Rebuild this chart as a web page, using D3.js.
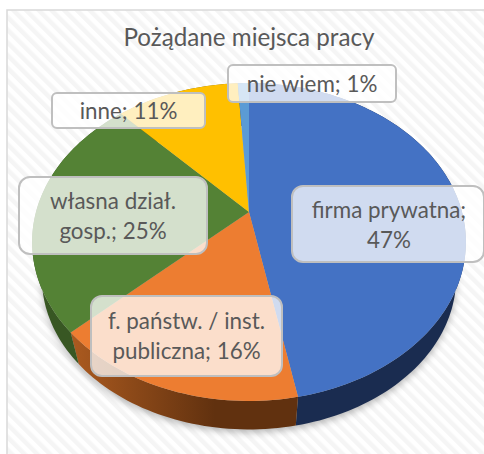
<!DOCTYPE html>
<meta charset="utf-8">
<style>
html, body { margin: 0; padding: 0; background: #fff; }
svg { display: block; }
text { font-family: Lato, "Open Sans", sans-serif; fill: #595959; }
</style>
<body>
<svg id="chart" width="484" height="454"></svg>

<script src="https://d3js.org/d3.v7.min.js"></script>
<script>

// chart values
var title = "Pożądane miejsca pracy";
var categories = ["firma prywatna", "f. państw. / inst. publiczna", "własna dział. gosp.", "inne", "nie wiem"];
var shares = [47, 16, 25, 11, 1];
var labelLines = [
    ["firma prywatna;", "47%"],
    ["f. państw. / inst.", "publiczna; 16%"],
    ["własna dział.", "gosp.; 25%"],
    ["inne; 11%"],
    ["nie wiem; 1%"]
];

var topColors = ["#4472c4", "#ed7d31", "#548235", "#ffc000", "#5b9bd5"];
var wallColors = ["#1a2c50", "url(#orangeWall)", "#385723", "#7f6000", "#2e4e6b"];

// label boxes, placed by hand like in the original
var boxes = [
    {x: 292, y: 186, w: 192, h: 76},
    {x: 91, y: 296, w: 191, h: 80},
    {x: 19, y: 177, w: 188, h: 77},
    {x: 52, y: 93, w: 153, h: 35},
    {x: 228, y: 65, w: 168, h: 37}
];

var svg = d3.select("#chart");
var defs = svg.append("defs");

// faint diagonal stripes of the chart area
var stripes = defs.append("pattern")
    .attr("id", "stripes")
    .attr("width", 9).attr("height", 9)
    .attr("patternUnits", "userSpaceOnUse")
    .attr("patternTransform", "rotate(-45)");
stripes.append("rect").attr("width", 9).attr("height", 9).attr("fill", "#ffffff");
stripes.append("rect").attr("width", 4.5).attr("height", 9).attr("fill", "#f5f5f5");

var grad = defs.append("linearGradient")
    .attr("id", "orangeWall")
    .attr("gradientUnits", "userSpaceOnUse")
    .attr("x1", 75).attr("x2", 215).attr("y1", 0).attr("y2", 0);
grad.append("stop").attr("offset", 0).attr("stop-color", "#a9591f");
grad.append("stop").attr("offset", 1).attr("stop-color", "#61310f");

defs.append("filter").attr("id", "blur")
    .attr("x", "-10%").attr("y", "-10%").attr("width", "120%").attr("height", "120%")
    .append("feGaussianBlur").attr("stdDeviation", 3.5);

// background and frame
svg.append("rect").attr("width", 484).attr("height", 454).attr("fill", "#fff");
svg.append("rect")
    .attr("x", 7).attr("y", 10).attr("width", 490).attr("height", 460)
    .attr("fill", "url(#stripes)")
    .attr("stroke", "#d9d9d9").attr("stroke-width", 1.5);

// perspective projection of the pie disc, angle 0 is the back of the pie
var apexX = 249, apexY = 212, scaleX = 213, scaleY = 153.3, tilt = 0.1887;
function project(a, depth) {
    var u = Math.sin(a), v = -Math.cos(a);
    var w = 1 - tilt * v;
    var px = scaleX * u / w, py = scaleY * v / w;
    if (depth) return [apexX + 0.955 * px, 249 + 0.955 * py];
    return [apexX + px, apexY + py];
}

var pie = d3.pie().sort(null).value(function (d) { return d; });
var arcs = pie(shares);
var line = d3.line();

function arcPoints(d, depth) {
    var n = Math.max(4, Math.ceil((d.endAngle - d.startAngle) * 40));
    return d3.range(n + 1).map(function (i) {
        return project(d.startAngle + (d.endAngle - d.startAngle) * i / n, depth);
    });
}

// shadow under the pie
var whole = {startAngle: 0, endAngle: 2 * Math.PI};
svg.append("path")
    .attr("d", line(arcPoints(whole, true)) + "Z")
    .attr("transform", "translate(0,3)")
    .attr("fill", "#000").attr("fill-opacity", 0.28)
    .attr("filter", "url(#blur)");

// side walls
svg.append("g").selectAll("path")
    .data(arcs)
    .enter().append("path")
    .attr("d", function (d) {
        return line(arcPoints(d, false).concat(arcPoints(d, true).reverse())) + "Z";
    })
    .attr("fill", function (d, i) { return wallColors[i]; });

// top face
svg.append("g").selectAll("path")
    .data(arcs)
    .enter().append("path")
    .attr("d", function (d) {
        return line([[apexX, apexY]].concat(arcPoints(d, false))) + "Z";
    })
    .attr("fill", function (d, i) { return topColors[i]; });

// title
svg.append("text")
    .attr("x", 249).attr("y", 46)
    .attr("text-anchor", "middle")
    .attr("font-size", 24.2)
    .text(title);

// data labels
var label = svg.append("g").selectAll("g")
    .data(categories)
    .enter().append("g");

label.append("rect")
    .attr("x", function (d, i) { return boxes[i].x; })
    .attr("y", function (d, i) { return boxes[i].y; })
    .attr("width", function (d, i) { return boxes[i].w; })
    .attr("height", function (d, i) { return boxes[i].h; })
    .attr("rx", function (d, i) { return labelLines[i].length > 1 ? 11 : 5; })
    .attr("fill", "#fff").attr("fill-opacity", 0.75)
    .attr("stroke", "#bfbfbf").attr("stroke-width", 2);

label.each(function (d, i) {
    var b = boxes[i], lines = labelLines[i];
    var cx = i == 0 ? 389 : b.x + b.w / 2;
    var firstY = b.y + b.h / 2 + 8 - (lines.length - 1) * 15;
    if (i == 0) firstY += 1;
    var t = d3.select(this).append("text")
        .attr("text-anchor", "middle")
        .attr("font-size", 22.4);
    lines.forEach(function (s, k) {
        t.append("tspan").attr("x", cx).attr("y", firstY + k * 30).text(s);
    });
});

</script>
</body>
